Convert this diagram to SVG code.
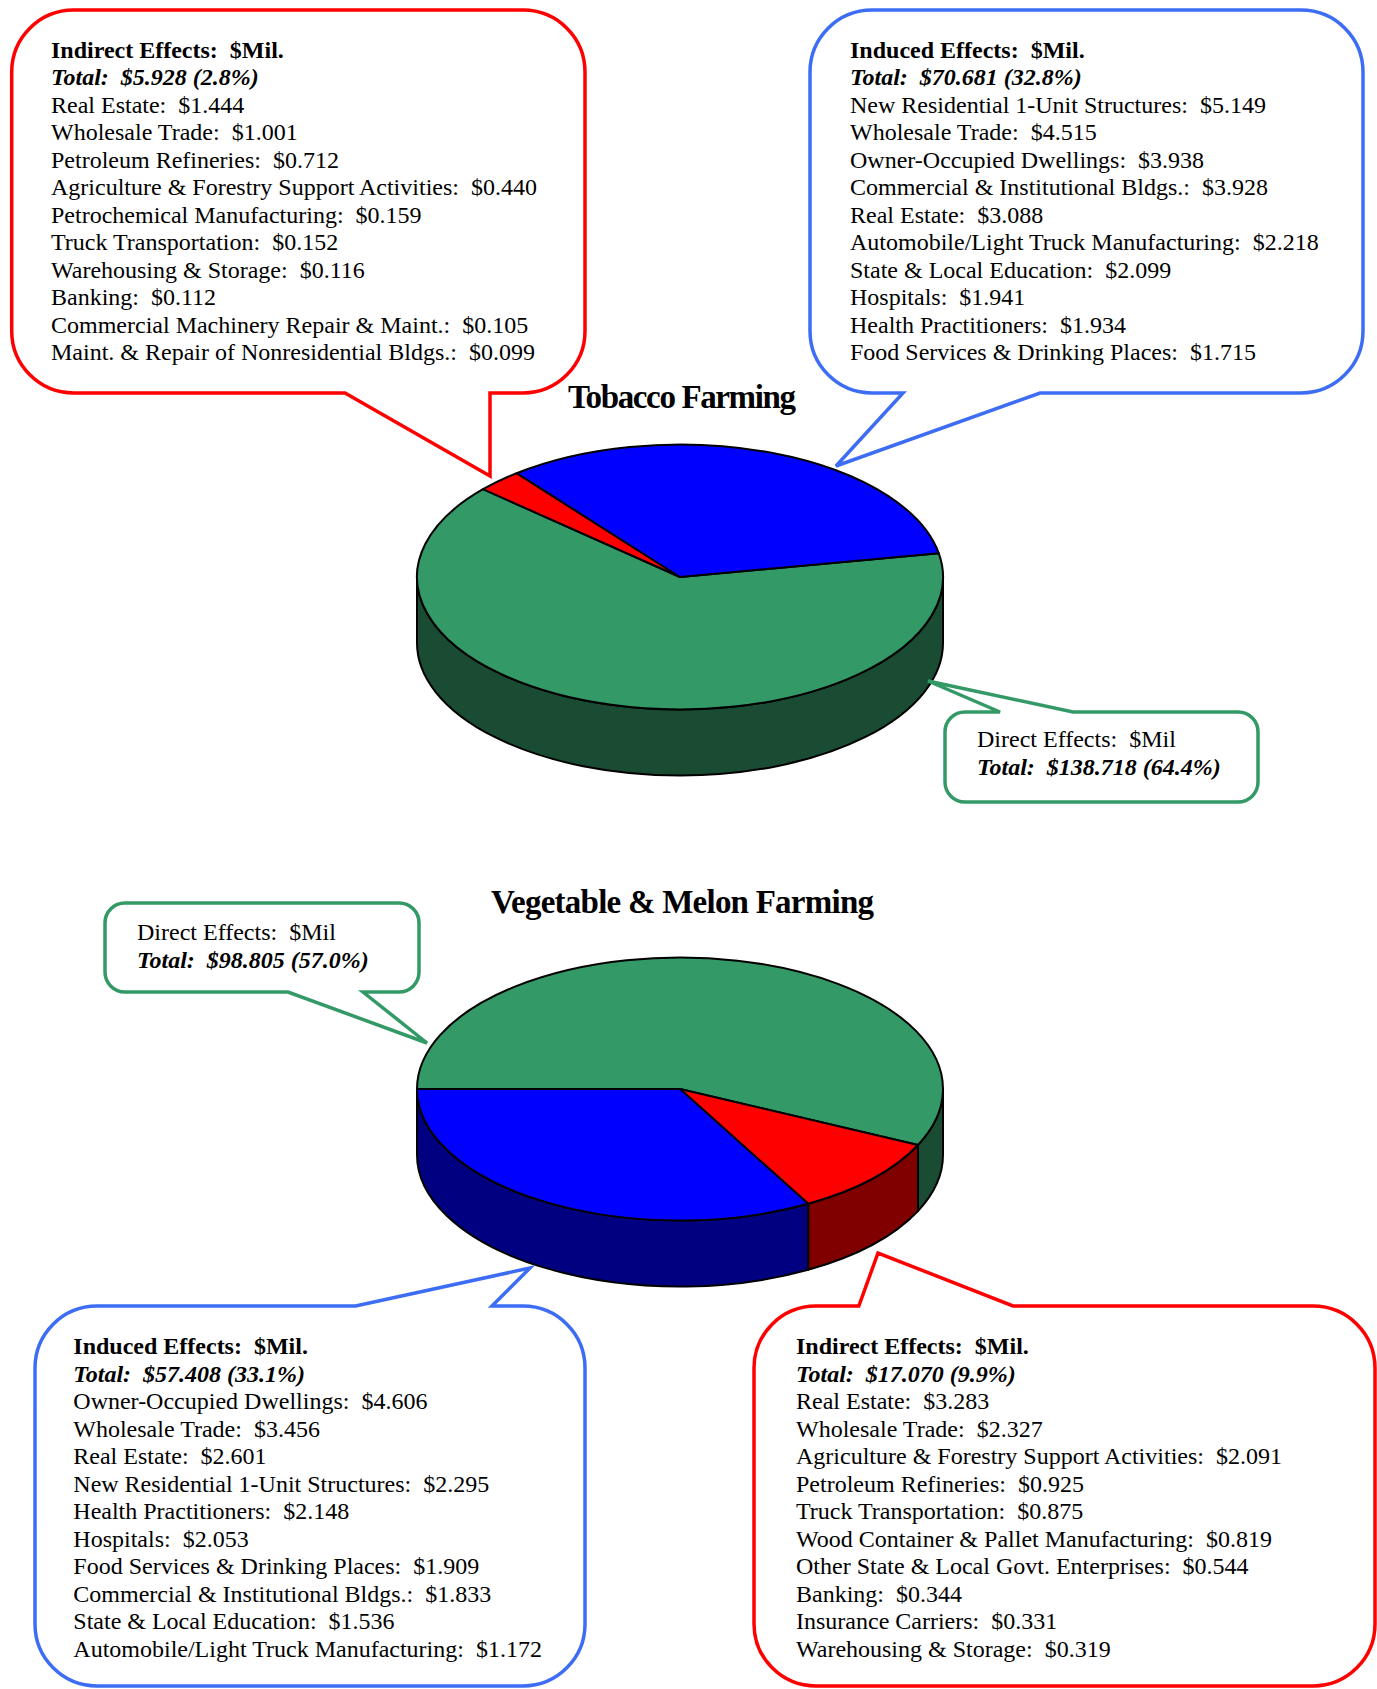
<svg xmlns="http://www.w3.org/2000/svg" width="1377" height="1689" viewBox="0 0 1377 1689" xml:space="preserve">
<style>
  text { white-space: pre; }
  .t { font-family: "Liberation Serif", "Times New Roman", serif; font-size: 24px; fill: #000; white-space: pre; }
  .b { font-weight: bold; }
  .bi { font-weight: bold; font-style: italic; }
  .title { font-family: "Liberation Serif", "Times New Roman", serif; font-size: 33px; font-weight: bold; fill: #000; }
  .red { fill: #fff; stroke: #ff0000; stroke-width: 3.5; stroke-linejoin: miter; }
  .blue { fill: #fff; stroke: #3d6df5; stroke-width: 3.5; stroke-linejoin: miter; }
  .green { fill: #fff; stroke: #339966; stroke-width: 3.5; stroke-linejoin: miter; }
  .pie { stroke: #000; stroke-width: 2; stroke-linejoin: round; }
</style>
<rect width="1377" height="1689" fill="#fff"/>

<g id="tobacco-title"><text class="title" x="568" y="408" textLength="228">Tobacco Farming</text></g>

<g id="tobacco-pie">
  <path class="pie" fill="#194c33" d="M 417 577 L 417 643 A 263 132.5 0 0 0 943 643 L 943 577 A 263 132.5 0 0 1 417 577 Z"/>
  <path class="pie" fill="#339966" d="M 680 577 L 938.8 553.3 A 263 132.5 0 1 1 483 489.2 Z"/>
  <path class="pie" fill="#ff0000" d="M 680 577 L 483 489.2 A 263 132.5 0 0 1 516.6 473.2 Z"/>
  <path class="pie" fill="#0000ff" d="M 680 577 L 516.6 473.2 A 263 132.5 0 0 1 938.8 553.3 Z"/>
</g>

<g id="veg-title"><text class="title" x="491" y="913" textLength="383">Vegetable &amp; Melon Farming</text></g>

<g id="veg-pie">
  <path class="pie" fill="#194c33" d="M 943 1089 A 263 131.5 0 0 1 917.96 1145 L 917.96 1211 A 263 131.5 0 0 0 943 1155 Z"/>
  <path class="pie" fill="#800000" d="M 917.96 1145 A 263 131.5 0 0 1 808.2 1203.8 L 808.2 1269.8 A 263 131.5 0 0 0 917.96 1211 Z"/>
  <path class="pie" fill="#000080" d="M 808.2 1203.8 A 263 131.5 0 0 1 417 1089 L 417 1155 A 263 131.5 0 0 0 808.2 1269.8 Z"/>
  <path class="pie" fill="#339966" d="M 680 1089 L 417 1089 A 263 131.5 0 1 1 917.96 1145 Z"/>
  <path class="pie" fill="#ff0000" d="M 680 1089 L 917.96 1145 A 263 131.5 0 0 1 808.2 1203.8 Z"/>
  <path class="pie" fill="#0000ff" d="M 680 1089 L 808.2 1203.8 A 263 131.5 0 0 1 417 1089 Z"/>
</g>

<g id="connectors"></g>

<g id="tobacco-indirect">
  <path class="red" d="M 73.7 10 H 523 A 62 62 0 0 1 585 72 V 331 A 62 62 0 0 1 523 393 H 490 L 490 476 L 345 393 H 73.7 A 62 62 0 0 1 11.7 331 V 72 A 62 62 0 0 1 73.7 10 Z"/>
  <text class="t" x="51" y="57.5"><tspan class="b" x="51">Indirect Effects:  $Mil.</tspan><tspan class="bi" x="51" dy="27.5">Total:  $5.928 (2.8%)</tspan><tspan x="51" dy="27.5">Real Estate:  $1.444</tspan><tspan x="51" dy="27.5">Wholesale Trade:  $1.001</tspan><tspan x="51" dy="27.5">Petroleum Refineries:  $0.712</tspan><tspan x="51" dy="27.5">Agriculture &amp; Forestry Support Activities:  $0.440</tspan><tspan x="51" dy="27.5">Petrochemical Manufacturing:  $0.159</tspan><tspan x="51" dy="27.5">Truck Transportation:  $0.152</tspan><tspan x="51" dy="27.5">Warehousing &amp; Storage:  $0.116</tspan><tspan x="51" dy="27.5">Banking:  $0.112</tspan><tspan x="51" dy="27.5">Commercial Machinery Repair &amp; Maint.:  $0.105</tspan><tspan x="51" dy="27.5">Maint. &amp; Repair of Nonresidential Bldgs.:  $0.099</tspan></text>
</g>

<g id="tobacco-induced">
  <path class="blue" d="M 872 10 H 1301 A 62 62 0 0 1 1363 72 V 331 A 62 62 0 0 1 1301 393 H 1040 L 836 466 L 903 393 H 872 A 62 62 0 0 1 810 331 V 72 A 62 62 0 0 1 872 10 Z"/>
  <text class="t" x="850" y="57.5"><tspan class="b" x="850">Induced Effects:  $Mil.</tspan><tspan class="bi" x="850" dy="27.5">Total:  $70.681 (32.8%)</tspan><tspan x="850" dy="27.5">New Residential 1-Unit Structures:  $5.149</tspan><tspan x="850" dy="27.5">Wholesale Trade:  $4.515</tspan><tspan x="850" dy="27.5">Owner-Occupied Dwellings:  $3.938</tspan><tspan x="850" dy="27.5">Commercial &amp; Institutional Bldgs.:  $3.928</tspan><tspan x="850" dy="27.5">Real Estate:  $3.088</tspan><tspan x="850" dy="27.5">Automobile/Light Truck Manufacturing:  $2.218</tspan><tspan x="850" dy="27.5">State &amp; Local Education:  $2.099</tspan><tspan x="850" dy="27.5">Hospitals:  $1.941</tspan><tspan x="850" dy="27.5">Health Practitioners:  $1.934</tspan><tspan x="850" dy="27.5">Food Services &amp; Drinking Places:  $1.715</tspan></text>
</g>

<g id="tobacco-direct">
  <path class="green" d="M 967 712 H 1000 L 928 681 L 1073 712 H 1238 A 20 20 0 0 1 1258 732 V 782 A 20 20 0 0 1 1238 802 H 965 A 20 20 0 0 1 945 782 V 732 A 20 20 0 0 1 965 712 Z"/>
  <text class="t" x="977" y="747"><tspan x="977">Direct Effects:  $Mil</tspan><tspan class="bi" x="977" dy="27.5">Total:  $138.718 (64.4%)</tspan></text>
</g>

<g id="veg-direct">
  <path class="green" d="M 125 903 H 399 A 20 20 0 0 1 419 923 V 972 A 20 20 0 0 1 399 992 H 363 L 427 1043 L 288 992 H 125 A 20 20 0 0 1 105 972 V 923 A 20 20 0 0 1 125 903 Z"/>
  <text class="t" x="137" y="940"><tspan x="137">Direct Effects:  $Mil</tspan><tspan class="bi" x="137" dy="27.5">Total:  $98.805 (57.0%)</tspan></text>
</g>

<g id="veg-induced">
  <path class="blue" d="M 97 1306 H 355.6 L 530 1268 L 492 1306 H 523 A 62 62 0 0 1 585 1368 V 1624 A 62 62 0 0 1 523 1686 H 97 A 62 62 0 0 1 35 1624 V 1368 A 62 62 0 0 1 97 1306 Z"/>
  <text class="t" x="73.3" y="1354"><tspan class="b" x="73.3">Induced Effects:  $Mil.</tspan><tspan class="bi" x="73.3" dy="27.5">Total:  $57.408 (33.1%)</tspan><tspan x="73.3" dy="27.5">Owner-Occupied Dwellings:  $4.606</tspan><tspan x="73.3" dy="27.5">Wholesale Trade:  $3.456</tspan><tspan x="73.3" dy="27.5">Real Estate:  $2.601</tspan><tspan x="73.3" dy="27.5">New Residential 1-Unit Structures:  $2.295</tspan><tspan x="73.3" dy="27.5">Health Practitioners:  $2.148</tspan><tspan x="73.3" dy="27.5">Hospitals:  $2.053</tspan><tspan x="73.3" dy="27.5">Food Services &amp; Drinking Places:  $1.909</tspan><tspan x="73.3" dy="27.5">Commercial &amp; Institutional Bldgs.:  $1.833</tspan><tspan x="73.3" dy="27.5">State &amp; Local Education:  $1.536</tspan><tspan x="73.3" dy="27.5">Automobile/Light Truck Manufacturing:  $1.172</tspan></text>
</g>

<g id="veg-indirect">
  <path class="red" d="M 816 1306 H 858.8 L 878 1253 L 1013 1306 H 1313 A 62 62 0 0 1 1375 1368 V 1624 A 62 62 0 0 1 1313 1686 H 816 A 62 62 0 0 1 754 1624 V 1368 A 62 62 0 0 1 816 1306 Z"/>
  <text class="t" x="796" y="1354"><tspan class="b" x="796">Indirect Effects:  $Mil.</tspan><tspan class="bi" x="796" dy="27.5">Total:  $17.070 (9.9%)</tspan><tspan x="796" dy="27.5">Real Estate:  $3.283</tspan><tspan x="796" dy="27.5">Wholesale Trade:  $2.327</tspan><tspan x="796" dy="27.5">Agriculture &amp; Forestry Support Activities:  $2.091</tspan><tspan x="796" dy="27.5">Petroleum Refineries:  $0.925</tspan><tspan x="796" dy="27.5">Truck Transportation:  $0.875</tspan><tspan x="796" dy="27.5">Wood Container &amp; Pallet Manufacturing:  $0.819</tspan><tspan x="796" dy="27.5">Other State &amp; Local Govt. Enterprises:  $0.544</tspan><tspan x="796" dy="27.5">Banking:  $0.344</tspan><tspan x="796" dy="27.5">Insurance Carriers:  $0.331</tspan><tspan x="796" dy="27.5">Warehousing &amp; Storage:  $0.319</tspan></text>
</g>
</svg>
